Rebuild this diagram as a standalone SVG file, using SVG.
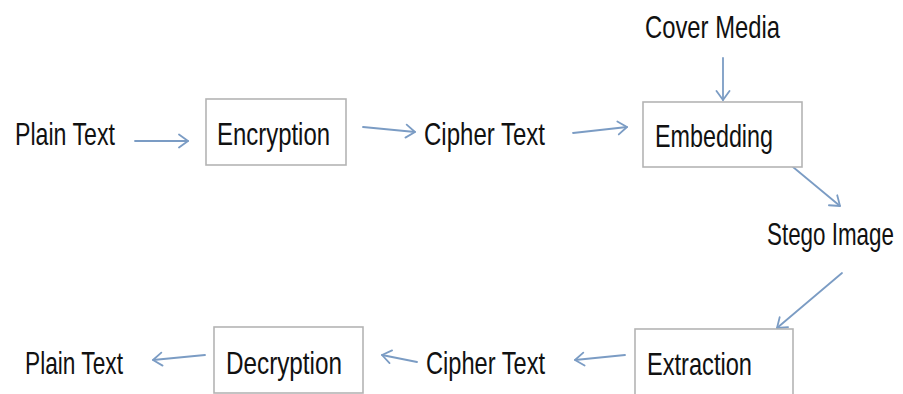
<svg xmlns="http://www.w3.org/2000/svg" width="903" height="394" viewBox="0 0 903 394">
  <style>
    .lbl { font-family: "Liberation Sans", Arial, sans-serif; font-size: 32px; fill: #111111; }
    .box { fill: #ffffff; stroke: #b4b4b4; stroke-width: 1.6; }
    .edge { fill: none; stroke: #7b9cc4; stroke-width: 1.8; stroke-linecap: round; }
  </style>
  <defs>
    <marker id="chev" viewBox="0 0 12 16" refX="11" refY="8" markerWidth="12" markerHeight="16" markerUnits="userSpaceOnUse" orient="auto">
      <path d="M2,1.5 L11,8 L2,14.5" fill="none" stroke="#7b9cc4" stroke-width="1.8" stroke-linecap="round" stroke-linejoin="round"/>
    </marker>
  </defs>
  <rect width="903" height="394" fill="#ffffff"/>

  <g id="connectors">
    <line class="edge" x1="135" y1="141" x2="188" y2="141" marker-end="url(#chev)"/>
    <line class="edge" x1="363" y1="127" x2="415" y2="132" marker-end="url(#chev)"/>
    <line class="edge" x1="573" y1="133" x2="627" y2="127" marker-end="url(#chev)"/>
    <line class="edge" x1="723" y1="58" x2="723" y2="100" marker-end="url(#chev)"/>
    <line class="edge" x1="793" y1="167" x2="840" y2="206" marker-end="url(#chev)"/>
    <line class="edge" x1="842" y1="273" x2="777" y2="328" marker-end="url(#chev)"/>
    <line class="edge" x1="625" y1="355" x2="575" y2="360" marker-end="url(#chev)"/>
    <line class="edge" x1="417" y1="362" x2="382" y2="355" marker-end="url(#chev)"/>
    <line class="edge" x1="205" y1="355" x2="153" y2="360" marker-end="url(#chev)"/>
  </g>

  <g id="plain-text-in">
    <text class="lbl" x="15" y="145" textLength="100" lengthAdjust="spacingAndGlyphs">Plain Text</text>
  </g>
  <g id="encryption">
    <rect class="box" x="206" y="99" width="140" height="66"/>
    <text class="lbl" x="217" y="145" textLength="113" lengthAdjust="spacingAndGlyphs">Encryption</text>
  </g>
  <g id="cipher-text-out">
    <text class="lbl" x="424" y="145" textLength="121" lengthAdjust="spacingAndGlyphs">Cipher Text</text>
  </g>
  <g id="cover-media">
    <text class="lbl" x="645" y="38" textLength="135" lengthAdjust="spacingAndGlyphs">Cover Media</text>
  </g>
  <g id="embedding">
    <rect class="box" x="643" y="102" width="159" height="65"/>
    <text class="lbl" x="655" y="147" textLength="118" lengthAdjust="spacingAndGlyphs">Embedding</text>
  </g>
  <g id="stego-image">
    <!-- narrowed by a horizontal scale so the label stays inside the right edge -->
    <text class="lbl" transform="translate(767,245) scale(0.7,1)" x="0" y="0">Stego Image</text>
  </g>
  <g id="extraction">
    <rect class="box" x="635" y="329" width="158" height="75"/>
    <text class="lbl" x="647" y="375" textLength="105" lengthAdjust="spacingAndGlyphs">Extraction</text>
  </g>
  <g id="cipher-text-in">
    <text class="lbl" x="426" y="374" textLength="119" lengthAdjust="spacingAndGlyphs">Cipher Text</text>
  </g>
  <g id="decryption">
    <rect class="box" x="214" y="327" width="149" height="66"/>
    <text class="lbl" x="226" y="374" textLength="116" lengthAdjust="spacingAndGlyphs">Decryption</text>
  </g>
  <g id="plain-text-out">
    <text class="lbl" x="25" y="374" textLength="98" lengthAdjust="spacingAndGlyphs">Plain Text</text>
  </g>
</svg>
